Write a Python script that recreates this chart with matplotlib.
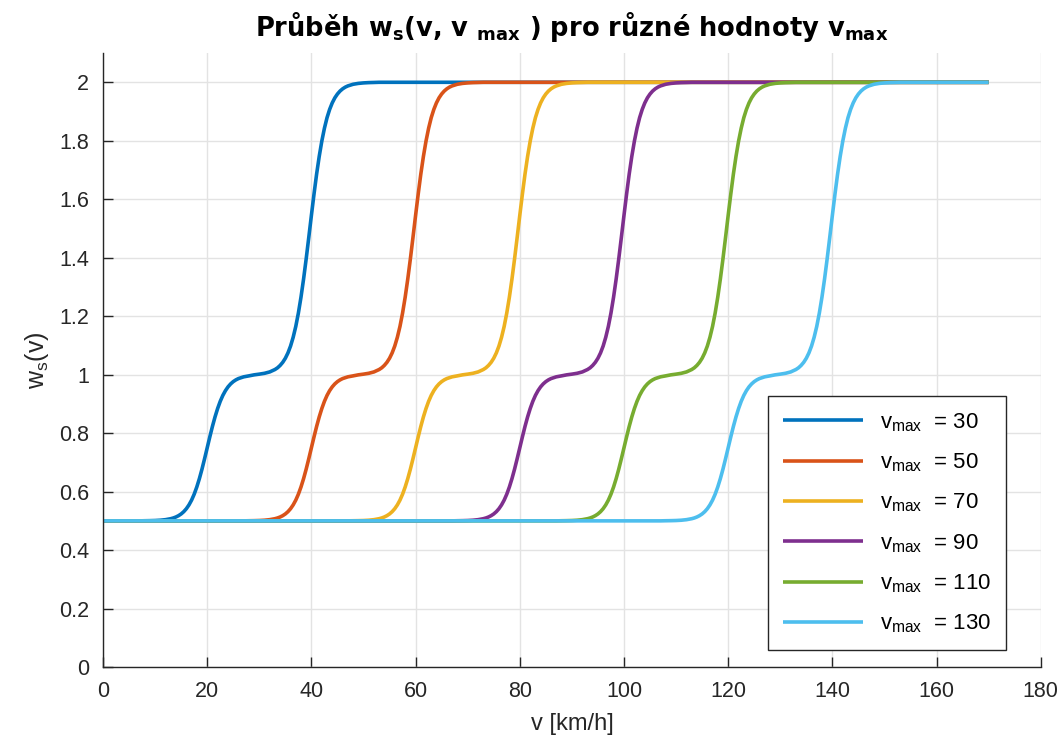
import numpy as np
import matplotlib
matplotlib.use("Agg")
import matplotlib.pyplot as plt

plt.rcParams.update({
    "font.family": ["Liberation Sans", "DejaVu Sans"],
    "mathtext.fontset": "custom",
    "mathtext.rm": "Liberation Sans",
    "mathtext.it": "Liberation Sans",
    "mathtext.bf": "DejaVu Sans:bold",
    "mathtext.default": "regular",
})

# v_max values of the six curves
VMAX = [30, 50, 70, 90, 110, 130]
COLORS = ["#0072BD", "#D95319", "#EDB120", "#7E2F8E", "#77AC30", "#4DBEEE"]
V_START, V_END = 0, 170

# shape of one curve: offset from v_max [km/h] -> w_s
OFFSETS = [-30, -25, -23, -22, -21, -20, -19, -18, -17, -16.5, -16, -15.5, -15,
           -14.5, -14, -13.5, -13, -12.5, -12, -11.5, -11, -10.5, -10, -9.5, -9,
           -8.5, -8, -7.5, -7, -6.5, -6, -5.5, -5, -4.5, -4, -3, -2, -1, 0, 1, 2,
           3, 3.5, 4, 4.5, 5, 5.5, 6, 6.5, 7, 7.5, 8, 8.5, 9, 9.5, 10, 10.5, 11,
           11.5, 12, 12.5, 13, 13.5, 14, 14.5, 15, 15.5, 16, 16.5, 17, 18, 19,
           20, 21, 22, 23, 30, 40]
PROFILE = [0.5, 0.5, 0.5, 0.5004, 0.5007, 0.5012, 0.5022, 0.5041, 0.5074, 0.5099,
           0.5133, 0.5178, 0.5237, 0.5315, 0.5416, 0.5546, 0.5709, 0.5912, 0.6158,
           0.6445, 0.6771, 0.7128, 0.75, 0.7872, 0.8229, 0.8555, 0.8842, 0.9088,
           0.9291, 0.9454, 0.9584, 0.9685, 0.9763, 0.9822, 0.9867, 0.9926, 0.9959,
           0.9994, 1.0018, 1.0047, 1.0094, 1.0176, 1.0235, 1.0317, 1.0423, 1.0562,
           1.0745, 1.0979, 1.1279, 1.165, 1.2108, 1.265, 1.3274, 1.3965, 1.470,
           1.545, 1.6177, 1.686, 1.7465, 1.799, 1.8429, 1.879, 1.9072, 1.9296,
           1.9469, 1.960, 1.9701, 1.9777, 1.9834, 1.9876, 1.9932, 1.9962, 1.9979,
           1.9989, 1.9994, 2.0, 2.0, 2.0]
W_LOW, W_HIGH = 0.5, 2.0

fig = plt.figure(figsize=(10.62, 7.42), dpi=100)
ax = fig.add_axes([0.097, 0.101, 0.883, 0.8275])

off = np.array(OFFSETS, dtype=float)
prof = np.array(PROFILE)
for vm, c in zip(VMAX, COLORS):
    v = np.concatenate([[V_START], vm + off, [V_END]])
    w = np.concatenate([[W_LOW], prof, [W_HIGH]])
    keep = (v >= V_START) & (v <= V_END)
    ax.plot(v[keep], w[keep], color=c, lw=2.6, solid_capstyle="butt",
            label=r"v$_{max}$  = %d" % vm)

ax.set_xlim(0, 180)
ax.set_ylim(0, 2.1)
ax.set_xticks(np.arange(0, 181, 20))
ax.set_yticks(np.arange(0, 2.01, 0.2))
ax.set_yticklabels(["0", "0.2", "0.4", "0.6", "0.8", "1", "1.2", "1.4", "1.6", "1.8", "2"])
ax.grid(True, color="#e3e3e3", lw=1.0)
ax.set_axisbelow(True)
for s in ("top", "right"):
    ax.spines[s].set_visible(False)
for s in ("left", "bottom"):
    ax.spines[s].set_color("#262626")
    ax.spines[s].set_linewidth(1.0)
ax.tick_params(direction="in", length=7, width=1.0, color="#262626",
               labelcolor="#262626", labelsize=15.5, pad=10)
for lab in ax.get_xticklabels() + ax.get_yticklabels():
    lab.set_family(["Liberation Sans Narrow", "Liberation Sans"])

ax.set_xlabel("v [km/h]", fontsize=17, color="#262626", labelpad=8,
              family=["Liberation Sans Narrow", "Liberation Sans"])
ax.set_ylabel(r"w$_s$(v)", fontsize=18, color="#262626", labelpad=6)
ax.set_title(r"Průběh w$_\mathbf{s}$(v, v $_\mathbf{max}$ ) pro různé hodnoty v$_\mathbf{max}$",
             fontsize=18.5, fontweight="bold", family="DejaVu Sans", pad=12)

leg = ax.legend(loc="lower right", bbox_to_anchor=(0.963, 0.028), borderaxespad=0,
                fontsize=16, fancybox=False, framealpha=1, edgecolor="#262626",
                handlelength=3.6, labelspacing=0.8, borderpad=0.65, handletextpad=0.8)
leg.get_frame().set_linewidth(1.0)

fig.savefig("out.png", dpi=100)
